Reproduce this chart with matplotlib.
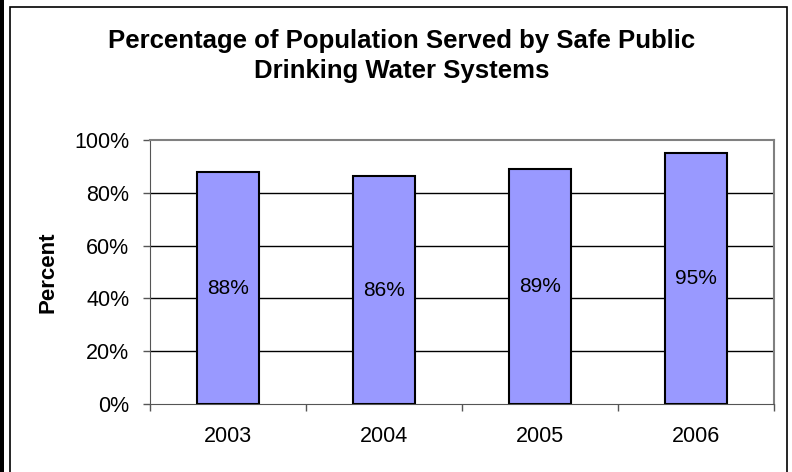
import numpy as np
import matplotlib
matplotlib.use("Agg")
import matplotlib.pyplot as plt
from matplotlib.patches import Rectangle
from matplotlib.ticker import FixedLocator

# data
years = ["2003", "2004", "2005", "2006"]
pct = [87.8, 86.2, 88.9, 95.2]
pct_labels = ["88%", "86%", "89%", "95%"]
yticks = [0, 20, 40, 60, 80, 100]

plt.rcParams['font.family'] = ['Liberation Sans', 'DejaVu Sans']

fig = plt.figure(figsize=(7.92, 4.72), dpi=100)
ax = fig.add_axes([150/792, 68/472, 624/792, 264/472])

x = np.arange(len(years))
bars = ax.bar(x, pct, width=0.4, color='#9999FF', edgecolor='black', linewidth=1.5, zorder=3)
for b, lab in zip(bars, pct_labels):
    ax.text(b.get_x() + b.get_width()/2, b.get_height()/2, lab,
            ha='center', va='center', fontsize=15, zorder=4)

ax.set_xlim(-0.5, len(years) - 0.5)
ax.set_ylim(0, 100)
ax.set_yticks(yticks)
ax.set_yticklabels([f"{t}%" for t in yticks], fontsize=15.5)
ax.set_xticks(x)
ax.set_xticklabels(years, fontsize=15.5)
ax.tick_params(axis='x', which='major', length=0, pad=16)
ax.xaxis.set_minor_locator(FixedLocator(np.arange(len(years) + 1) - 0.5))
ax.tick_params(axis='x', which='minor', length=5, width=1, color='#555555')
ax.tick_params(axis='y', length=5, width=1, color='#555555', pad=10)

for t in yticks[1:-1]:
    ax.axhline(t, color='black', linewidth=1, zorder=1)

ax.spines['top'].set_color('#808080')
ax.spines['right'].set_color('#808080')
ax.spines['top'].set_linewidth(1.5)
ax.spines['right'].set_linewidth(1.5)
ax.spines['left'].set_color('#555555')
ax.spines['bottom'].set_color('#555555')

ax.set_ylabel("Percent", fontsize=16, fontweight='bold', labelpad=11)

fig.text(402/792, 1 - 56/472,
         "Percentage of Population Served by Safe Public\nDrinking Water Systems",
         ha='center', va='center', fontsize=18.5, fontweight='bold', linespacing=1.3)

# outer frame
fig.patches.append(Rectangle((10/792, -0.01), 777/792, 1 - 7/472 + 0.01,
                             transform=fig.transFigure, fill=False,
                             edgecolor='black', linewidth=1.2))
fig.patches.append(Rectangle((0, 0), 4/792, 1, transform=fig.transFigure,
                             facecolor='black', edgecolor='none'))

fig.savefig("out.png", dpi=100)
